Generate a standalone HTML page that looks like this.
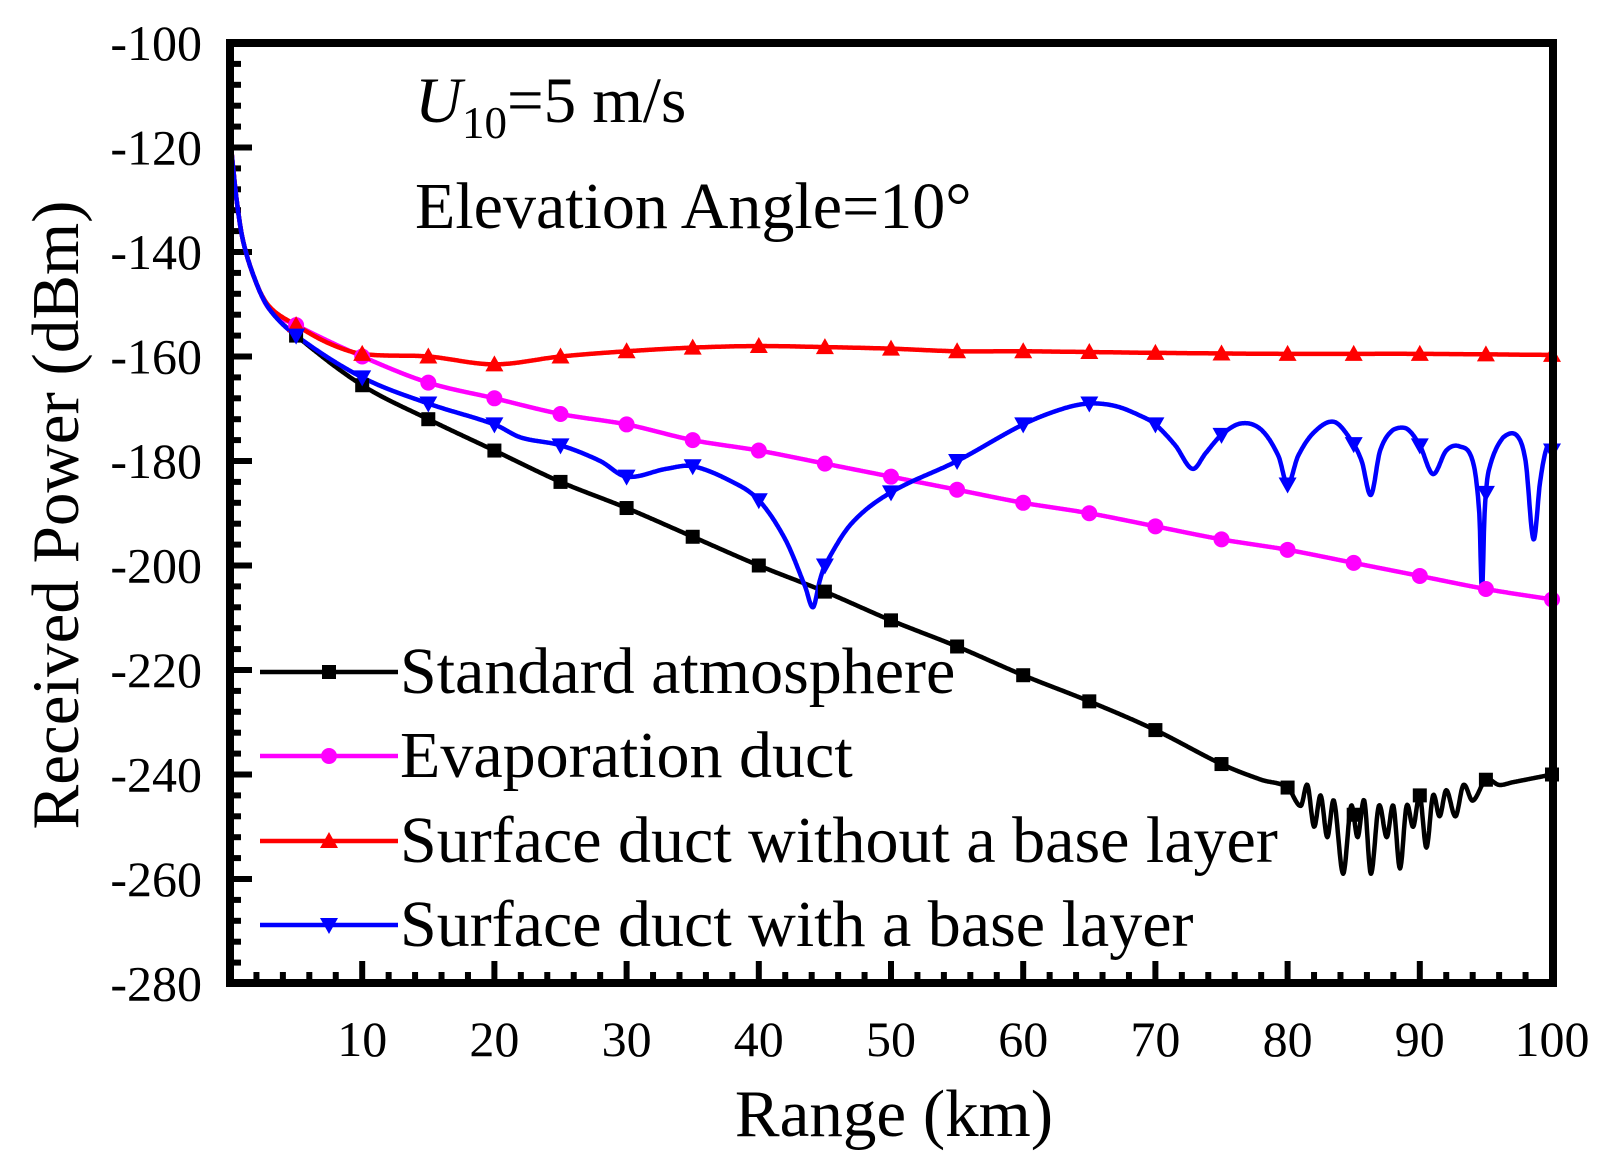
<!DOCTYPE html>
<html><head><meta charset="utf-8"><style>html,body{margin:0;padding:0;background:#fff}svg{display:block}</style></head>
<body>
<svg id="s" xmlns="http://www.w3.org/2000/svg" width="1612" height="1170" viewBox="0 0 1612 1170" font-family="'Liberation Serif', serif">
<g id="ticks" stroke="#000" stroke-width="6"></g>
<g id="curves" fill="none" stroke-width="4.5" stroke-linejoin="round"></g>
<g id="marks"></g>
<rect x="230" y="43" width="1323" height="940" fill="none" stroke="#000" stroke-width="8"/>
<g font-size="50" text-anchor="end" id="ylab"></g>
<g font-size="50" text-anchor="middle" id="xlab"></g>
<text x="894" y="1136" font-size="67" text-anchor="middle">Range (km)</text>
<text transform="translate(78,515) rotate(-90)" font-size="67" text-anchor="middle">Received Power (dBm)</text>
<text x="415" y="122" font-size="65"><tspan font-style="italic">U</tspan><tspan font-size="45" dy="16">10</tspan><tspan dy="-16">=5 m/s</tspan></text>
<text x="415" y="228" font-size="66">Elevation Angle=10°</text>
<g font-size="66" id="leg"></g>
</svg>
<script>
var NS="http://www.w3.org/2000/svg";
function X(x){return 230+13.22*x}
function Y(v){return 43+(-100-v)*5.225}
function el(p,t,a){var e=document.createElementNS(NS,t);for(var k in a)e.setAttribute(k,a[k]);document.getElementById(p).appendChild(e);return e}
for(var x=2;x<100;x+=2){var maj=x%10==0;el("ticks","line",{x1:X(x),x2:X(x),y1:983,y2:983-(maj?22:11)});}
for(var v=-276;v<-100;v+=4){var maj=v%20==0;el("ticks","line",{x1:230,x2:230+(maj?22:11),y1:Y(v),y2:Y(v)});}
for(var v=-100;v>=-280;v-=20){el("ylab","text",{x:202,y:Y(v)+17}).textContent=v;}
for(var x=10;x<=100;x+=10){el("xlab","text",{x:X(x),y:1056}).textContent=x;}
function interp(pts,x){for(var i=0;i<pts.length-1;i++){if(x>=pts[i][0]&&x<=pts[i+1][0]){var a=pts[i],b=pts[i+1];var p0=pts[i-1]||a,p3=pts[i+2]||b;var h=b[0]-a[0];var t=(x-a[0])/h;
 var m1=(b[1]-p0[1])/(b[0]-p0[0]||1)*h, m2=(p3[1]-a[1])/(p3[0]-a[0]||1)*h;
 var d=b[1]-a[1]; if(Math.abs(m1)>3*Math.abs(d)+0.5)m1=Math.sign(m1)*(3*Math.abs(d)+0.5); if(Math.abs(m2)>3*Math.abs(d)+0.5)m2=Math.sign(m2)*(3*Math.abs(d)+0.5);
 var t2=t*t,t3=t2*t;return (2*t3-3*t2+1)*a[1]+(t3-2*t2+t)*m1+(-2*t3+3*t2)*b[1]+(t3-t2)*m2;}}return pts[pts.length-1][1];}
var start=[[0,-118],[0.5,-130],[1,-138],[2,-146],[3,-151],[5,-156]];
var std=start.concat([[10,-165.5],[15,-172],[20,-178],[25,-184],[30,-189],[35,-194.5],[40,-200],[45,-205],[50,-210.5],[55,-215.5],[60,-221],[65,-226],[70,-231.5],[75,-238],[78,-241],[80,-242.5],[81,-246],[81.5,-242],[82,-250],[82.5,-244],[83,-252],[83.5,-245],[84.2,-259],[84.8,-246],[85.3,-252],[85.8,-245],[86.3,-259],[86.9,-246],[87.5,-252],[88,-246],[88.5,-258],[89,-246],[89.5,-250],[90,-244],[90.5,-254],[91,-244],[91.5,-248],[92,-243],[92.7,-248],[93.3,-242],[94,-245],[95,-241],[96,-242],[97,-241.5],[98,-241],[100,-240]]);
var eva=[[0,-118],[0.5,-130],[1,-138],[2,-146],[3,-151],[5,-154],[10,-160],[15,-165],[20,-168],[25,-171],[30,-173],[35,-176],[40,-178],[45,-180.5],[50,-183],[55,-185.5],[60,-188],[65,-190],[70,-192.5],[75,-195],[80,-197],[85,-199.5],[90,-202],[95,-204.5],[100,-206.5]];
var red=[[0,-118],[0.5,-130],[1,-138],[2,-146],[3,-150.5],[5,-154],[7.5,-157.5],[10,-159.5],[15,-160],[20,-161.5],[25,-160],[30,-159],[35,-158.3],[40,-158],[45,-158.2],[50,-158.5],[55,-159],[60,-159],[70,-159.3],[80,-159.5],[90,-159.5],[100,-159.7]];
var blue=start.concat([[10,-164],[15,-169],[20,-173],[22,-175.5],[25,-177],[28,-180],[30,-183],[33,-181.5],[35,-181],[38,-184],[40,-187.5],[42,-195],[43.5,-204],[44.1,-208],[44.6,-203],[45,-200],[47,-192],[50,-186],[55,-180],[60,-173],[63,-170],[65,-169],[67,-169.5],[69,-171.5],[70,-173],[71.5,-177],[72.8,-181.5],[73.8,-178.5],[75,-175],[76.5,-172.8],[78,-174],[79.3,-179],[80,-184.5],[80.8,-179],[82,-174.5],[83.5,-172.5],[84.8,-176],[85.6,-180],[86.3,-186.5],[87,-178],[88,-174],[89,-173.8],[90,-177],[91,-182.5],[92,-178],[93,-177.2],[94,-180],[94.5,-190],[94.7,-205],[94.9,-190],[95.2,-182],[96.3,-175.5],[97.3,-175],[98,-180],[98.6,-195],[99.1,-184],[99.6,-177.5],[100,-178]]);
function path(pts,col){var d="";var step=0.05;for(var x=0;x<=100.001;x+=step){d+=(d?"L":"M")+X(x).toFixed(1)+","+Y(interp(pts,x)).toFixed(1);}el("curves","path",{d:d,stroke:col});}
path(std,"#000");path(eva,"#ff00ff");path(red,"#ff0000");path(blue,"#0000ff");
function mark(g,t,cx,cy,col){
 if(t=="sq")el(g,"rect",{x:cx-7,y:cy-7,width:14,height:14,fill:col});
 else if(t=="ci")el(g,"circle",{cx:cx,cy:cy,r:8,fill:col});
 else if(t=="up")el(g,"polygon",{points:(cx-9)+","+(cy+7)+" "+(cx+9)+","+(cy+7)+" "+cx+","+(cy-9),fill:col});
 else el(g,"polygon",{points:(cx-9)+","+(cy-7)+" "+(cx+9)+","+(cy-7)+" "+cx+","+(cy+9),fill:col});
}
var sets=[[std,"sq","#000"],[eva,"ci","#ff00ff"],[red,"up","#ff0000"],[blue,"dn","#0000ff"]];
sets.forEach(function(s){for(var x=5;x<=100;x+=5)mark("marks",s[1],X(x),Y(interp(s[0],x)),s[2]);});
var names=["Standard atmosphere","Evaporation duct","Surface duct without a base layer","Surface duct with a base layer"];
var ly=[672,756,841,925];
for(var i=0;i<4;i++){el("leg","rect",{x:255,y:ly[i]-22,width:145,height:50,fill:"#fff"});}
for(var i=0;i<4;i++){el("leg","line",{x1:260,x2:398,y1:ly[i],y2:ly[i],stroke:sets[i][2],"stroke-width":4.5});mark("leg",sets[i][1],329,ly[i],sets[i][2]);el("leg","text",{x:400,y:ly[i]+21}).textContent=names[i];}
</script>
</body></html>
